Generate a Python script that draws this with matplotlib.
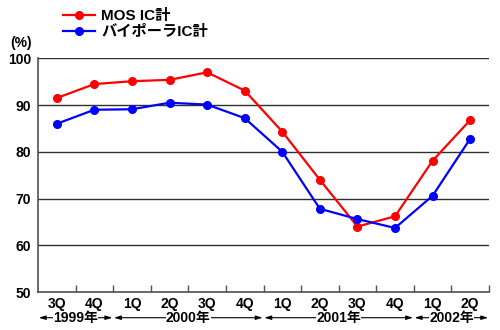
import matplotlib
matplotlib.use("Agg")
import matplotlib.pyplot as plt
import numpy as np
from matplotlib.transforms import blended_transform_factory

plt.rcParams['font.family'] = ['Liberation Sans', 'Noto Sans CJK JP', 'DejaVu Sans']
plt.rcParams['font.weight'] = 'bold'

quarters = ["3Q", "4Q", "1Q", "2Q", "3Q", "4Q", "1Q", "2Q", "3Q", "4Q", "1Q", "2Q"]
years = ["1999年", "2000年", "2001年", "2002年"]
quarters_per_year = [2, 4, 4, 2]
mos_ic = [91.5, 94.5, 95.1, 95.4, 97.0, 93.1, 84.3, 74.0, 64.0, 66.2, 78.1, 86.8]
bipolar_ic = [86.0, 89.0, 89.1, 90.5, 90.1, 87.2, 80.0, 67.8, 65.6, 63.7, 70.6, 82.8]
series_names = ["MOS IC計", "バイポーラIC計"]
yticks = [50, 60, 70, 80, 90, 100]

fig = plt.figure(figsize=(5, 3.3), dpi=100)
ax = fig.add_axes([38/500, 1-292/330, 451/500, (292-58.33)/330])

x = np.arange(len(quarters))
l1, = ax.plot(x, mos_ic, color='#FF0000', lw=1.6, marker='o', markersize=5.5, label=series_names[0], zorder=3)
l2, = ax.plot(x, bipolar_ic, color='#0000FF', lw=1.6, marker='o', markersize=5.5, label=series_names[1], zorder=3)

ax.set_xlim(-0.5, len(quarters) - 0.5)
ax.set_ylim(50, 100)
ax.set_yticks(yticks)
ax.set_yticklabels([str(v) for v in yticks], fontsize=10, fontweight='bold')
ax.tick_params(axis='y', length=0, pad=5)
ax.set_xticks(x)
ax.set_xticklabels(quarters, fontsize=10, fontweight='bold')
ax.tick_params(axis='x', which='major', length=0, pad=3.5)
ax.set_xticks(np.arange(len(quarters)) + 0.5, minor=True)
ax.tick_params(axis='x', which='minor', direction='in', length=5, color='#555555', width=1)

for v in yticks[1:]:
    ax.axhline(v, color='#303030', lw=1, zorder=1)

for s in ['top', 'right']:
    ax.spines[s].set_visible(False)
ax.spines['left'].set_color('#505050')
ax.spines['bottom'].set_color('#505050')
ax.spines['left'].set_linewidth(1.2)
ax.spines['bottom'].set_linewidth(1.2)

# year spans
trans = blended_transform_factory(ax.transData, ax.transAxes)
start = -0.5
yy = -0.11
for yr, n in zip(years, quarters_per_year):
    end = start + n
    ax.annotate('', xy=(start + 0.02, yy), xytext=(end - 0.02, yy), xycoords=trans, textcoords=trans,
                arrowprops=dict(arrowstyle='<|-|>,head_length=0.4,head_width=0.12', color='black', lw=0.8,
                                shrinkA=0, shrinkB=0), annotation_clip=False)
    ax.text((start + end) / 2, yy, yr, transform=trans, ha='center', va='center', fontsize=10,
            fontweight='bold', bbox=dict(facecolor='white', edgecolor='none', pad=0.0), clip_on=False)
    start = end

fig.text(10/500, 1-43/330, '(%)', fontsize=10, fontweight='bold', va='center', ha='left')

fig.legend(handles=[l1, l2], loc='upper left', bbox_to_anchor=(54/500, 1.0), frameon=False,
           prop={'size': 11, 'weight': 'bold'}, handlelength=2.1, handletextpad=0.4,
           labelspacing=0.15, borderaxespad=0.2)

fig.savefig('out.png', dpi=100)
